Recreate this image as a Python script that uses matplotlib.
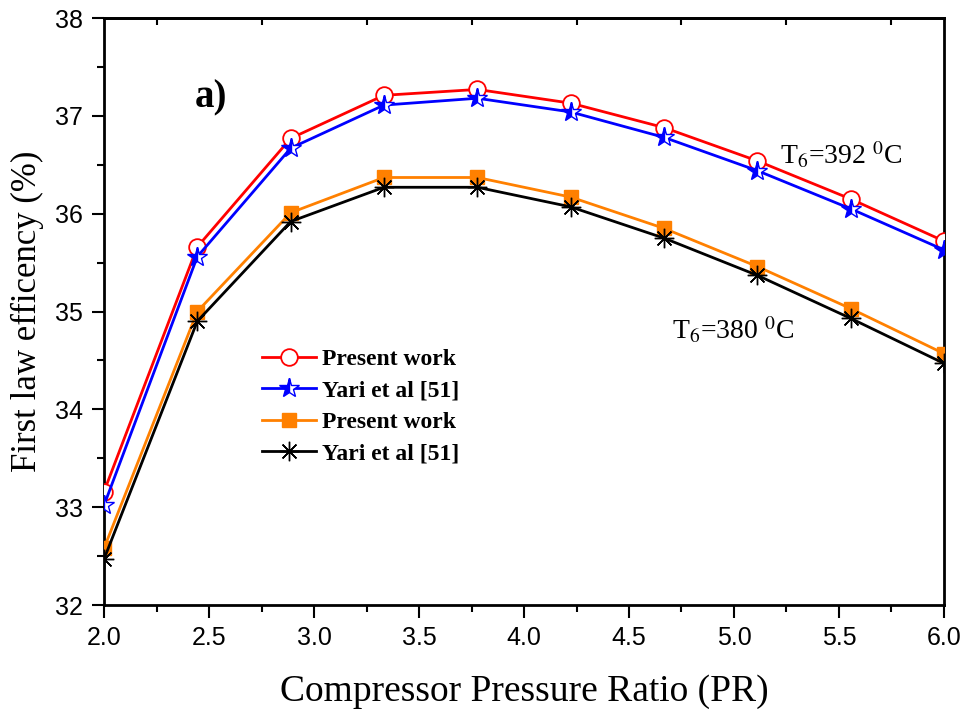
import matplotlib
matplotlib.use("Agg")
import matplotlib.pyplot as plt
from matplotlib.ticker import MultipleLocator, FixedLocator, NullFormatter
import numpy as np

pr = [2.0, 2.444, 2.889, 3.333, 3.778, 4.222, 4.667, 5.111, 5.556, 6.0]
present_392 = [33.16, 35.66, 36.77, 37.21, 37.27, 37.13, 36.88, 36.54, 36.15, 35.72]
yari_392 = [33.02, 35.56, 36.67, 37.11, 37.18, 37.04, 36.78, 36.44, 36.05, 35.63]
present_380 = [32.58, 35.00, 36.01, 36.37, 36.37, 36.17, 35.85, 35.46, 35.03, 34.57]
yari_380 = [32.47, 34.90, 35.92, 36.27, 36.27, 36.07, 35.75, 35.37, 34.93, 34.47]

labels = ["Present work", "Yari et al [51]", "Present work", "Yari et al [51]"]
xticks = [2.0, 2.5, 3.0, 3.5, 4.0, 4.5, 5.0, 5.5, 6.0]
yticks = [32, 33, 34, 35, 36, 37, 38]

fig = plt.figure(figsize=(9.66, 7.15), dpi=100)
ax = fig.add_axes([0.1077, 0.1538, 0.8695, 0.821])

ax.plot(pr, present_392, color="#ff0000", lw=2, marker="o", ms=12,
        mfc="white", mec="#ff0000", mew=1.3, label=labels[0], zorder=3)
ax.plot(pr, yari_392, color="#0000ff", lw=2, marker="*", ms=15,
        mfc="#0000ff", mec="#0000ff", fillstyle="left", markerfacecoloralt="white",
        mew=1.0, label=labels[1], zorder=4)
ax.plot(pr, present_380, color="#ff8000", lw=2, marker="s", ms=10,
        mfc="#ff8000", mec="#ff8000", label=labels[2], zorder=3)
ax.plot(pr, yari_380, color="black", lw=2, marker=(8, 2, 0), ms=14,
        mec="black", mew=1.0, label=labels[3], zorder=4)

ax.set_xlim(2.0, 6.0)
ax.set_ylim(32, 38)
ax.xaxis.set_minor_locator(MultipleLocator(0.25))
ax.yaxis.set_minor_locator(MultipleLocator(0.5))

tickfont = {"family": ["Liberation Sans Narrow", "Liberation Sans", "DejaVu Sans"], "size": 18}
ax.set_xticks(xticks)
ax.set_xticklabels([f"{v:.1f}" for v in xticks], fontdict=tickfont)
ax.set_yticks(yticks)
ax.set_yticklabels([f"{v}" for v in yticks], fontdict=tickfont)

ax.tick_params(which="major", direction="out", length=9, width=1.5, pad=6)
ax.tick_params(which="minor", direction="out", length=5, width=1.5)
for s in ax.spines.values():
    s.set_linewidth(2)

# top minor ticks
secx = ax.secondary_xaxis("top")
secx.xaxis.set_major_locator(FixedLocator([2.25, 2.75, 3.25, 3.75, 4.25, 4.75, 5.25, 5.75]))
secx.xaxis.set_major_formatter(NullFormatter())
secx.tick_params(direction="in", length=5, width=1.5)
secx.spines["top"].set_linewidth(2)

serif = ["Liberation Serif", "DejaVu Serif"]
ax.set_xlabel("Compressor Pressure Ratio (PR)", fontfamily=serif, fontsize=27, labelpad=18)
ax.set_ylabel("First law efficency (%)", fontfamily=serif, fontsize=25, labelpad=8)

ax.text(2.433, 37.09, "a)", fontfamily=serif, fontsize=28, fontweight="bold")
ax.text(5.219, 36.50, r"T$_6$=392 $^0$C", fontfamily=serif, fontsize=20,
        math_fontfamily="stix")
ax.text(4.705, 34.72, r"T$_6$=380 $^0$C", fontfamily=serif, fontsize=20,
        math_fontfamily="stix")

leg = ax.legend(loc="upper left", bbox_to_anchor=(0.188, 0.437), frameon=False,
                prop={"family": serif, "weight": "bold", "size": 17},
                handlelength=2.3, handletextpad=0.25, labelspacing=0.42,
                borderaxespad=0, borderpad=0)

fig.savefig("out.png", dpi=100)
